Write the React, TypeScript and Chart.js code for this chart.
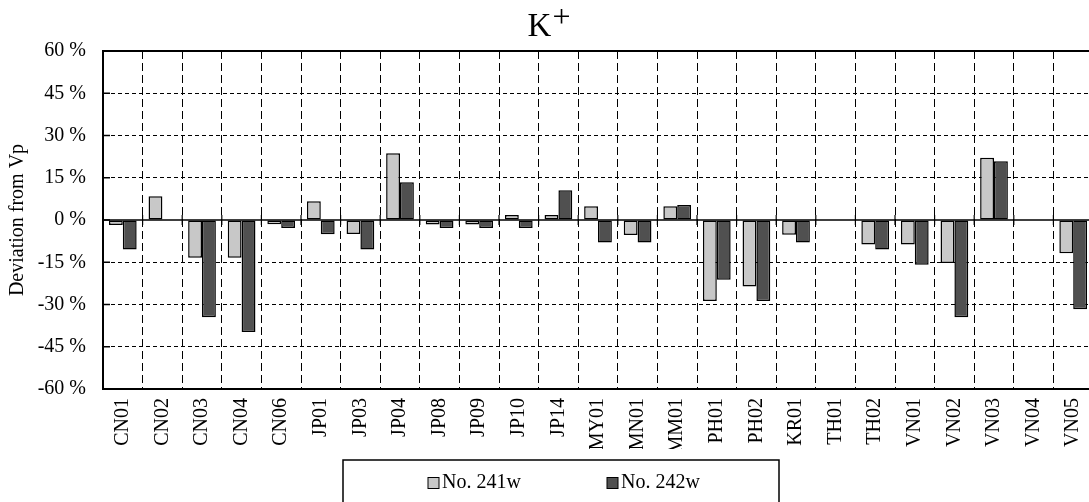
import React, { useEffect, useRef } from "react";
import { Chart, registerables } from "chart.js";

Chart.register(...registerables);

// Sampling sites along the horizontal axis
const categories = [
  "CN01", "CN02", "CN03", "CN04", "CN06", "JP01", "JP03", "JP04", "JP08", "JP09",
  "JP10", "JP14", "MY01", "MN01", "MM01", "PH01", "PH02", "KR01", "TH01", "TH02",
  "VN01", "VN02", "VN03", "VN04", "VN05",
];

// Deviation from the prepared value (%), null where no result was reported
const series241: (number | null)[] = [
  -1.8, 8.4, -13.4, -13.4, -1.5, 6.7, -5.0, 23.7, -1.6, -1.6,
  1.8, 1.8, 4.9, -5.3, 4.9, -28.8, -23.6, -5.2, null, -8.7,
  -8.7, -15.3, 22.1, null, -11.8,
];
const series242: (number | null)[] = [
  -10.5, null, -34.5, -39.8, -2.8, -5.1, -10.5, 13.4, -2.8, -2.8,
  -2.8, 10.6, -8.0, -8.0, 5.3, -21.2, -28.8, -8.0, null, -10.5,
  -15.9, -34.5, 20.9, null, -31.7,
];

const seriesNames = ["No. 241w", "No. 242w"];
const seriesColors = ["#C8C8C8", "#505050"];

const yMin = -60;
const yMax = 60;
const yStep = 15;

const titleMain = "K";
const titleSup = "+";
const yAxisTitle = "Deviation from Vp";

const FONT = "'Liberation Serif', 'Times New Roman', serif";

const CANVAS_W = 1110;
const CANVAS_H = 530;

// Chart title with a raised charge sign
const titlePlugin = {
  id: "ionTitle",
  afterDraw(chart: any) {
    const { ctx } = chart;
    ctx.save();
    ctx.fillStyle = "#000";
    ctx.textBaseline = "alphabetic";
    ctx.textAlign = "left";
    ctx.font = `33px ${FONT}`;
    const wMain = ctx.measureText(titleMain).width;
    ctx.font = `32px ${FONT}`;
    const wSup = ctx.measureText(titleSup).width;
    const total = wMain + wSup + 1;
    const x0 = 549 - total / 2;
    ctx.font = `33px ${FONT}`;
    ctx.fillText(titleMain, x0, 36);
    ctx.font = `32px ${FONT}`;
    ctx.fillText(titleSup, x0 + wMain + 1, 27);
    ctx.restore();
  },
};

// Zero line, axis tick marks and the top edge of the plot frame
const framePlugin = {
  id: "frame",
  afterDatasetsDraw(chart: any) {
    const { ctx, chartArea, scales } = chart;
    const { left, right, top } = chartArea;
    const y0 = scales.y.getPixelForValue(0);
    ctx.save();
    ctx.strokeStyle = "#000";
    ctx.setLineDash([]);

    ctx.lineWidth = 1.5;
    ctx.beginPath();
    ctx.moveTo(left, y0);
    ctx.lineTo(right, y0);
    ctx.stroke();

    // category boundary ticks crossing the zero line
    ctx.lineWidth = 1.2;
    for (let i = 1; i < categories.length; i++) {
      const x = (scales.x.getPixelForValue(i - 1) + scales.x.getPixelForValue(i)) / 2;
      ctx.beginPath();
      ctx.moveTo(x, y0 - 5);
      ctx.lineTo(x, y0 + 5);
      ctx.stroke();
    }

    // inside ticks on the value axis
    ctx.lineWidth = 1.5;
    for (let v = yMin; v <= yMax; v += yStep) {
      const y = scales.y.getPixelForValue(v);
      ctx.beginPath();
      ctx.moveTo(left, y);
      ctx.lineTo(left + 7, y);
      ctx.stroke();
    }

    ctx.lineWidth = 2;
    ctx.beginPath();
    ctx.moveTo(left - 1, top);
    ctx.lineTo(right + 20, top);
    ctx.stroke();
    ctx.restore();
  },
};

// Boxed legend below the category labels
const legendPlugin = {
  id: "boxLegend",
  afterDraw(chart: any) {
    const { ctx } = chart;
    ctx.save();
    ctx.strokeStyle = "#000";
    ctx.lineWidth = 1.5;
    ctx.strokeRect(343, 460, 436, 80);

    const markerX = [428, 607];
    ctx.font = `20px ${FONT}`;
    ctx.textBaseline = "alphabetic";
    ctx.textAlign = "left";
    chart.data.datasets.forEach((ds: any, i: number) => {
      const mx = markerX[i];
      ctx.fillStyle = ds.backgroundColor;
      ctx.fillRect(mx, 477.5, 11, 11);
      ctx.lineWidth = 1;
      ctx.strokeRect(mx, 477.5, 11, 11);
      ctx.fillStyle = "#000";
      ctx.fillText(ds.label, mx + 14, 488);
    });
    ctx.restore();
  },
};

export default function App() {
  const canvasRef = useRef<HTMLCanvasElement | null>(null);

  useEffect(() => {
    const canvas = canvasRef.current;
    if (!canvas) return;

    const chart = new Chart(canvas, {
      type: "bar",
      data: {
        labels: categories,
        datasets: [series241, series242].map((values, i) => ({
          label: seriesNames[i],
          data: values,
          backgroundColor: seriesColors[i],
          borderColor: "#000",
          borderWidth: 1.5,
          borderSkipped: false,
          barPercentage: 1,
          categoryPercentage: 0.7,
        })),
      },
      options: {
        responsive: false,
        animation: false,
        devicePixelRatio: 1,
        layout: {
          padding: { top: 51, right: CANVAS_W - 1093, bottom: CANVAS_H - 389 - 60, left: 0 },
        },
        plugins: {
          legend: { display: false },
          title: { display: false },
          tooltip: { enabled: false },
        },
        scales: {
          x: {
            position: "bottom",
            afterFit: (scale: any) => {
              scale.height = 60;
            },
            grid: {
              color: "#000",
              lineWidth: 1,
              drawTicks: false,
              offset: true,
            },
            border: { display: true, color: "#000", width: 2, dash: [8, 4] },
            ticks: {
              color: "#000",
              font: { family: FONT, size: 20 },
              minRotation: 90,
              maxRotation: 90,
              autoSkip: false,
              padding: 9,
            },
          },
          y: {
            min: yMin,
            max: yMax,
            afterFit: (scale: any) => {
              scale.width = 103;
            },
            ticks: {
              stepSize: yStep,
              color: "#000",
              font: { family: FONT, size: 20 },
              padding: 17,
              callback: (v: any) => `${v} %`,
            },
            grid: {
              color: (c: any) => (c.tick && c.tick.value === 0 ? "rgba(0,0,0,0)" : "#000"),
              lineWidth: 1,
              drawTicks: false,
            },
            border: { display: true, color: "#000", width: 2, dash: [4, 3] },
            title: {
              display: true,
              text: yAxisTitle,
              color: "#000",
              font: { family: FONT, size: 20 },
              padding: { top: 6, bottom: 0 },
            },
          },
        },
      },
      plugins: [titlePlugin, framePlugin, legendPlugin],
    });

    return () => chart.destroy();
  }, []);

  return (
    <div
      style={{
        position: "fixed",
        left: 0,
        top: 0,
        width: 1089,
        height: 502,
        overflow: "hidden",
        background: "#fff",
      }}
    >
      <canvas
        ref={canvasRef}
        width={CANVAS_W}
        height={CANVAS_H}
        style={{ display: "block", width: CANVAS_W, height: CANVAS_H }}
      />
    </div>
  );
}
